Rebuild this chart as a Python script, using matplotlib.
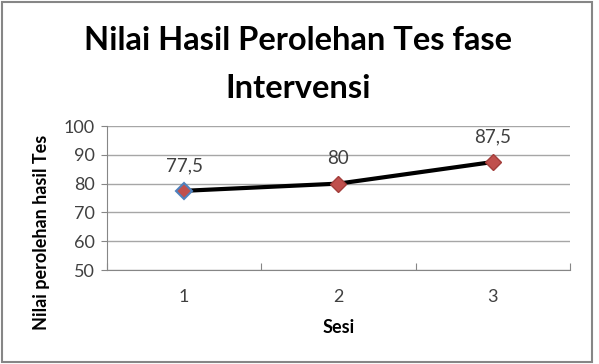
import matplotlib.pyplot as plt
from matplotlib.patches import Rectangle

sesi = [1, 2, 3]
nilai = [77.5, 80, 87.5]
label_nilai = ["77,5", "80", "87,5"]
y_ticks = [50, 60, 70, 80, 90, 100]

plt.rcParams['font.family'] = ['Lato', 'DejaVu Sans']

fig = plt.figure(figsize=(5.99, 3.64), dpi=100)
fig.patches.append(Rectangle((0.004, 0.005), 0.984, 0.99, transform=fig.transFigure,
                             fill=False, edgecolor='#868686', linewidth=1.5))

ax = fig.add_axes([0.1786, 0.2582, 0.773, 0.3956])
ax.set_xlim(0.5, 3.5)
ax.set_ylim(50, 100)

for y in y_ticks:
    ax.axhline(y, color='#a6a6a6', linewidth=1, zorder=0)

ax.plot(sesi, nilai, color='black', linewidth=3, zorder=2)
# first marker has the blue edge, the rest are plain red
ax.plot(sesi[:1], nilai[:1], 'D', markersize=8, markerfacecolor='#C0504D',
        markeredgecolor='#4F81BD', markeredgewidth=1.5, zorder=3)
ax.plot(sesi[1:], nilai[1:], 'D', markersize=8, markerfacecolor='#C0504D',
        markeredgecolor='#A33E3B', markeredgewidth=1, zorder=3)

for x, y, t in zip(sesi, nilai, label_nilai):
    ax.annotate(t, (x, y), xytext=(0, 12), textcoords='offset points',
                ha='center', va='bottom', fontsize=13.5, color='#404040')

ax.set_yticks(y_ticks)
ax.set_yticklabels([str(v) for v in y_ticks], fontsize=13, color='#404040')
ax.set_xticks([0.5, 1.5, 2.5, 3.5])
ax.set_xticklabels([])
ax.set_xticks(sesi, minor=True)
ax.set_xticklabels([str(s) for s in sesi], minor=True, fontsize=13, color='#404040')
ax.tick_params(axis='x', which='minor', length=0, pad=14)
ax.tick_params(axis='x', which='major', length=5, color='#868686', direction='in')
ax.tick_params(axis='y', length=4, color='#868686', direction='out', pad=5)

for s in ['top', 'right']:
    ax.spines[s].set_visible(False)
for s in ['left', 'bottom']:
    ax.spines[s].set_color('#868686')

ax.set_xlabel('Sesi', fontsize=13, fontweight='bold', labelpad=10)
fig.text(42 / 599, 1 - 232 / 364, 'Nilai perolehan hasil Tes', rotation=90,
         ha='center', va='center', fontsize=13, fontweight='bold')

fig.text(0.498, 1 - 41 / 364, 'Nilai Hasil Perolehan Tes fase', ha='center', va='center',
         fontsize=23.5, fontweight='bold')
fig.text(0.498, 1 - 88 / 364, 'Intervensi', ha='center', va='center',
         fontsize=23.5, fontweight='bold')

fig.savefig('out.png', dpi=100)
